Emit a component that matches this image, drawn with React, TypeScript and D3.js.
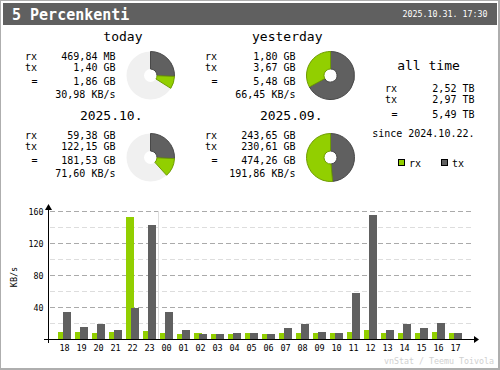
import React from 'react';
import * as d3 from 'd3';

const hours = ['18','19','20','21','22','23','00','01','02','03','04','05','06','07','08','09','10','11','12','13','14','15','16','17'];
const rxRate = [9, 9, 7.5, 9, 152.5, 10, 7.5, 6, 7.5, 6, 6, 7.5, 6, 7.5, 7.5, 7.5, 7.5, 9, 11, 7.5, 7.5, 7.5, 9, 7.5];
const txRate = [34, 15, 19, 11, 39, 142.5, 34, 11, 6, 6, 7.5, 7.5, 6, 13.5, 19, 9, 7.5, 57.5, 155, 11, 19, 13.5, 20, 7.5];
const yMajor = [40, 80, 120, 160];
const yMinor = [20, 60, 100, 140];

const periods = ['today', 'yesterday', '2025.10.', '2025.09.'];
const rxGB = [0.4588, 1.80, 59.38, 243.65];
const txGB = [1.40, 3.67, 122.15, 230.61];
const rxText = ['469,84 MB', '1,80 GB', '59,38 GB', '243,65 GB'];
const txText = ['1,40 GB', '3,67 GB', '122,15 GB', '230,61 GB'];
const totText = ['1,86 GB', '5,48 GB', '181,53 GB', '474,26 GB'];
const rateText = ['30,98 KB/s', '66,45 KB/s', '71,60 KB/s', '191,86 KB/s'];
const allTimeLabels = ['rx', 'tx', '='];
const allTimeText = ['2,52 TB', '2,97 TB', '5,49 TB'];
const sinceText = 'since 2024.10.22.';
const titleText = '5 Percenkenti';
const dateText = '2025.10.31. 17:30';

const RX = '#92CF00';
const TX = '#606060';
const RXD = '#6E9C00';
const TXD = '#484848';
const FONT = 'DejaVu Sans Mono, monospace';

export default function App() {
  const x = d3.scaleBand<string>().domain(hours).range([56, 464]).padding(0);
  const y = d3.scaleLinear().domain([0, 160]).range([339, 211]);
  const arc = d3.arc<any>();

  const blocks = [
    { dx: 0, dy: 0, py: 75.5 },
    { dx: 180, dy: 0, py: 75.5 },
    { dx: 0, dy: 79, py: 157.5 },
    { dx: 180, dy: 79, py: 157.5 },
  ];

  const renderBlock = (i: number) => {
    const b = blocks[i];
    const pair = i < 2 ? [0, 1] : [2, 3];
    const full = Math.max(...pair.map(p => rxGB[p] + txGB[p]));
    const txA = (txGB[i] / full) * Math.PI * 2;
    const rxA = txA + (rxGB[i] / full) * Math.PI * 2;
    const cx = 150.5 + b.dx;
    const cy = b.py;
    const ri = 6.5, ro = 24;
    return (
      <g key={i}>
        <text x={142.5 + b.dx} y={41 + b.dy} fontSize={13} textAnchor="end">{periods[i]}</text>
        <text x={25 + b.dx} y={59.5 + b.dy} fontSize={10}>rx</text>
        <text x={25 + b.dx} y={71 + b.dy} fontSize={10}>tx</text>
        <text x={31.5 + b.dx} y={84.5 + b.dy} fontSize={10}>=</text>
        <text x={115.5 + b.dx} y={59.5 + b.dy} fontSize={10} textAnchor="end">{rxText[i]}</text>
        <text x={115.5 + b.dx} y={71 + b.dy} fontSize={10} textAnchor="end">{txText[i]}</text>
        <text x={115.5 + b.dx} y={84.5 + b.dy} fontSize={10} textAnchor="end">{totText[i]}</text>
        <text x={115.5 + b.dx} y={97.5 + b.dy} fontSize={10} textAnchor="end">{rateText[i]}</text>
        <g transform={`translate(${cx},${cy})`}>
          <path d={arc({ innerRadius: ri, outerRadius: ro, startAngle: 0, endAngle: Math.PI * 2 }) || ''} fill="#F0F0F0" />
          <path d={arc({ innerRadius: ri, outerRadius: ro, startAngle: 0, endAngle: txA }) || ''} fill={TX} stroke={TXD} strokeWidth={1} />
          <path d={arc({ innerRadius: ri, outerRadius: ro, startAngle: txA, endAngle: rxA }) || ''} fill={RX} stroke={RXD} strokeWidth={1} />
        </g>
      </g>
    );
  };

  return (
    <svg width={500} height={370} style={{ position: 'absolute', left: 0, top: 0, background: '#fff' }} fontFamily={FONT}>
      <rect x={0} y={0} width={500} height={370} fill="#fff" />
      {/* edges */}
      <rect x={0.5} y={0.5} width={499} height={369} fill="none" stroke="#AEAEAE" />
      <line x1={498.5} y1={0} x2={498.5} y2={370} stroke="#AEAEAE" />
      <line x1={0} y1={368.5} x2={500} y2={368.5} stroke="#AEAEAE" />
      {/* header */}
      <rect x={3} y={3} width={494} height={22} fill="#606060" />
      <text x={12} y={19.5} fontSize={15} fontWeight="bold" fill="#fff">{titleText}</text>
      <text x={487.5} y={17} fontSize={8.3} fill="#fff" textAnchor="end">{dateText}</text>

      {[0, 1, 2, 3].map(renderBlock)}

      {/* all time */}
      <text x={428.5} y={70} fontSize={13} textAnchor="middle">all time</text>
      {allTimeLabels.map((l, k) => (
        <g key={l}>
          <text x={l === '=' ? 391.5 : 385} y={[91.5, 103.3, 117.5][k]} fontSize={10}>{l}</text>
          <text x={474.5} y={[91.5, 103.3, 117.5][k]} fontSize={10} textAnchor="end">{allTimeText[k]}</text>
        </g>
      ))}
      <text x={474.5} y={136.5} fontSize={10} textAnchor="end">{sinceText}</text>
      {/* legend */}
      <rect x={398.5} y={159.5} width={6} height={6} fill={RX} stroke="#000" />
      <text x={409} y={166.5} fontSize={10}>rx</text>
      <rect x={441.5} y={159.5} width={6} height={6} fill={TX} stroke="#000" />
      <text x={452} y={166.5} fontSize={10}>tx</text>

      {/* grid */}
      {yMinor.map(t => (
        <line key={'m' + t} x1={50} x2={472} y1={Math.round(y(t)) + 0.5} y2={Math.round(y(t)) + 0.5} stroke="#DDDDDD" strokeDasharray="5 3" />
      ))}
      {yMajor.map(t => (
        <line key={'M' + t} x1={50} x2={472} y1={Math.round(y(t)) + 0.5} y2={Math.round(y(t)) + 0.5} stroke="#AAAAAA" strokeDasharray="5 3" />
      ))}
      <line x1={(x('00') as number) + 0.5} x2={(x('00') as number) + 0.5} y1={211} y2={339} stroke="#DDDDDD" />

      {/* bars */}
      {hours.map((h, i) => {
        const bx = x(h) as number;
        const yr = Math.round(y(rxRate[i]));
        const yt = Math.round(y(txRate[i]));
        return (
          <g key={h}>
            <rect x={bx + 2} y={yr} width={8} height={339 - yr} fill={RX} />
            <rect x={bx + 7} y={yt} width={8} height={339 - yt} fill={TX} />
            <text x={bx + 8.5} y={350.5} fontSize={8.5} textAnchor="middle">{h}</text>
          </g>
        );
      })}

      {/* axes */}
      <line x1={44} x2={476} y1={339.5} y2={339.5} stroke="#000" />
      <polygon points="474,336 479,339.5 474,343" fill="#000" />
      <line x1={48.5} x2={48.5} y1={343} y2={208} stroke="#000" />
      <polygon points="45,210 48.5,204 52,210" fill="#000" />
      {yMajor.map(t => (
        <text key={'l' + t} x={43.5} y={y(t) + 3.5} fontSize={8.3} textAnchor="end">{t}</text>
      ))}
      <text transform="translate(17,277) rotate(-90)" fontSize={8.5} textAnchor="middle">KB/s</text>

      <text x={494} y={363.5} fontSize={8.3} fill="#D0D0D0" textAnchor="end">vnStat / Teemu Toivola</text>
    </svg>
  );
}
